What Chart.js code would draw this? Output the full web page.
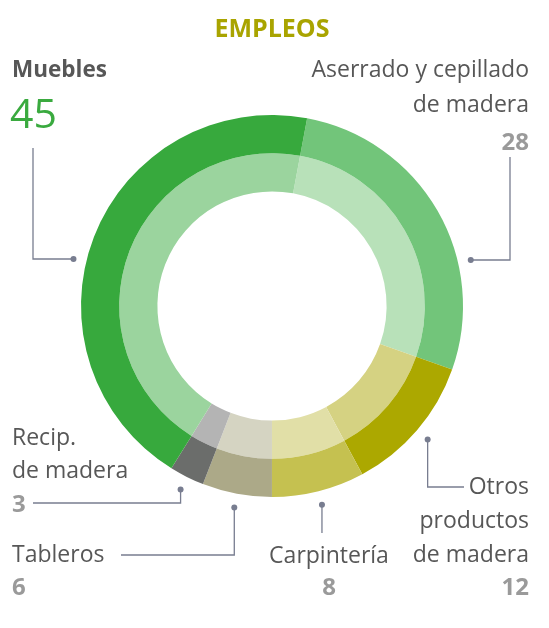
<!DOCTYPE html>
<html>
<head>
<meta charset="utf-8">
<script src="https://cdn.jsdelivr.net/npm/chart.js@4"></script>
<style>
  html, body { margin: 0; padding: 0; background: #fff; }
  canvas { display: block; }
</style>
</head>
<body>
<canvas id="empleos" width="549" height="628"></canvas>
<script>
// Data
const categories = ['Aserrado y cepillado de madera', 'Otros productos de madera', 'Carpintería', 'Tableros', 'Recip. de madera', 'Muebles'];
const empleos = [28, 12, 8, 6, 3, 45];
const outerColors = ['#72c57a', '#aca800', '#c5c150', '#aca988', '#6b6d6b', '#37a93d'];
const innerColors = ['#b8e1b9', '#d5d282', '#e1dfa7', '#d5d4c2', '#b4b4b4', '#9bd49e'];

const FONT = '"Open Sans", sans-serif';
const TEXT = '#575757';
const NUM = '#9a9a9a';
const LINE = '#787d90';

// Leader lines + labels, one entry per category index
const labelLayout = [
    { i: 0, fixedDy: -46, side: 1, path: p => [[510, p.y], [510, 157]],
      lines: ['Aserrado y cepillado', 'de madera'], ys: [77, 112], numY: 150, x: 529, align: 'right' },
    { i: 1, path: p => [[p.x, 487], [464, 487]],
      lines: ['Otros', 'productos', 'de madera'], ys: [494, 528, 562], numY: 595, x: 529, align: 'right' },
    { i: 2, path: p => [[p.x, 533]],
      lines: ['Carpintería'], ys: [563], numY: 595, x: 329, align: 'center' },
    { i: 3, path: p => [[p.x, 555], [121, 555]],
      lines: ['Tableros'], ys: [562], numY: 595, x: 12, align: 'left' },
    { i: 4, path: p => [[p.x, 503], [33, 503]],
      lines: ['Recip.', 'de madera'], ys: [445, 478], numY: 512, x: 12, align: 'left' },
    { i: 5, fixedDy: -47, side: -1, path: p => [[33, p.y], [33, 148]],
      big: true }
];

const annotations = {
    id: 'annotations',
    afterDraw(chart) {
        const ctx = chart.ctx;
        const arcs = chart.getDatasetMeta(0).data;
        ctx.save();

        // title
        ctx.fillStyle = '#a9a400';
        ctx.font = 'bold 25px ' + FONT;
        ctx.textAlign = 'center';
        ctx.fillText('EMPLEOS', 272, 37);

        labelLayout.forEach(l => {
            const arc = arcs[l.i];
            const r = arc.outerRadius + 13;
            let p;
            if (l.fixedDy !== undefined) {
                const y = arc.y + l.fixedDy;
                p = { x: arc.x + l.side * Math.sqrt(r * r - l.fixedDy * l.fixedDy), y: y };
            } else {
                const mid = (arc.startAngle + arc.endAngle) / 2;
                p = { x: arc.x + Math.cos(mid) * (r + 1), y: arc.y + Math.sin(mid) * (r + 1) };
            }

            // leader line
            ctx.strokeStyle = LINE;
            ctx.lineWidth = 1.3;
            ctx.beginPath();
            ctx.moveTo(p.x, p.y);
            l.path(p).forEach(pt => ctx.lineTo(pt[0], pt[1]));
            ctx.stroke();
            ctx.fillStyle = LINE;
            ctx.beginPath();
            ctx.arc(p.x, p.y, 3, 0, Math.PI * 2);
            ctx.fill();

            if (l.big) {
                ctx.textAlign = 'left';
                ctx.fillStyle = TEXT;
                ctx.font = 'bold 22.5px ' + FONT;
                ctx.fillText(categories[l.i], 12, 77);
                ctx.fillStyle = '#3aaa3f';
                ctx.font = '500 41px ' + FONT;
                ctx.fillText(String(empleos[l.i]), 10, 128);
                return;
            }

            ctx.textAlign = l.align;
            ctx.fillStyle = TEXT;
            ctx.font = '23px ' + FONT;
            l.lines.forEach((t, k) => ctx.fillText(t, l.x, l.ys[k]));
            ctx.fillStyle = NUM;
            ctx.font = 'bold 24px ' + FONT;
            ctx.fillText(String(empleos[l.i]), l.x, l.numY);
        });

        ctx.restore();
    }
};

new Chart(document.getElementById('empleos'), {
    type: 'doughnut',
    data: {
        labels: categories,
        datasets: [
            { data: empleos, backgroundColor: outerColors, borderWidth: 0 },
            { data: empleos, backgroundColor: innerColors, borderWidth: 0 }
        ]
    },
    options: {
        responsive: false,
        animation: false,
        rotation: 10.6,
        cutout: '60%',
        layout: { padding: { left: 81, right: 86, top: 115, bottom: 131 } },
        plugins: {
            legend: { display: false },
            tooltip: { enabled: false }
        }
    },
    plugins: [annotations]
});
</script>
</body>
</html>
